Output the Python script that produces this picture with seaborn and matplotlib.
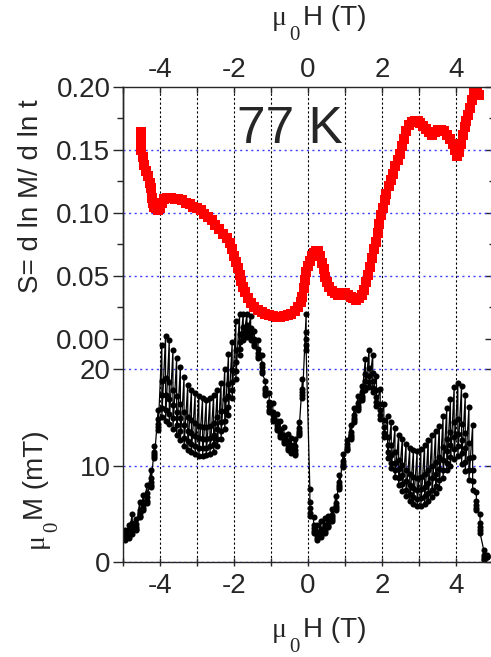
import numpy as np
import matplotlib
matplotlib.use("Agg")
import matplotlib.pyplot as plt
import seaborn as sns
from matplotlib.ticker import MultipleLocator, FixedLocator

# ---------------------------------------------------------------- data
# Relaxation rate S = d ln M / d ln t versus applied field (T)
s_field = [-4.52, -4.52, -4.50, -4.47, -4.43, -4.38, -4.33, -4.28, -4.24, -4.22,
           -4.20, -4.15, -4.10, -4.05, -4.00, -3.95, -3.88, -3.80, -3.70, -3.60,
           -3.50, -3.40, -3.30, -3.20, -3.10, -3.00, -2.90, -2.80, -2.70, -2.60,
           -2.50, -2.40, -2.30, -2.20, -2.12, -2.05, -2.00, -1.95, -1.90, -1.85,
           -1.80, -1.75, -1.70, -1.62, -1.55, -1.45, -1.35, -1.25, -1.15, -1.05,
           -0.95, -0.85, -0.75, -0.65, -0.55, -0.45, -0.35, -0.27, -0.20, -0.15,
           -0.12, -0.09, -0.05, 0.00, 0.05, 0.10, 0.15, 0.22, 0.28, 0.33,
           0.37, 0.42, 0.47, 0.52, 0.58, 0.65, 0.72, 0.80, 0.90, 1.00,
           1.08, 1.15, 1.22, 1.30, 1.38, 1.45, 1.52, 1.58, 1.63, 1.68,
           1.73, 1.78, 1.83, 1.88, 1.93, 1.97, 2.02, 2.07, 2.12, 2.18,
           2.24, 2.30, 2.36, 2.42, 2.48, 2.54, 2.60, 2.66, 2.73, 2.80,
           2.88, 2.96, 3.04, 3.12, 3.20, 3.28, 3.36, 3.44, 3.52, 3.60,
           3.68, 3.76, 3.84, 3.92, 3.98, 4.03, 4.08, 4.13, 4.18, 4.23,
           4.28, 4.33, 4.38, 4.43, 4.48, 4.53, 4.58, 4.62]
s_value = [0.164, 0.158, 0.150, 0.144, 0.138, 0.133, 0.129, 0.124, 0.120, 0.112,
           0.108, 0.105, 0.104, 0.102, 0.104, 0.108, 0.111, 0.112, 0.112, 0.111,
           0.111, 0.110, 0.108, 0.107, 0.105, 0.104, 0.102, 0.099, 0.097, 0.094,
           0.090, 0.087, 0.083, 0.080, 0.076, 0.071, 0.066, 0.061, 0.056, 0.051,
           0.046, 0.041, 0.037, 0.032, 0.028, 0.025, 0.023, 0.021, 0.020, 0.019,
           0.018, 0.0175, 0.0175, 0.018, 0.019, 0.020, 0.022, 0.025, 0.029, 0.033,
           0.040, 0.047, 0.053, 0.058, 0.062, 0.066, 0.068, 0.070, 0.070, 0.066,
           0.060, 0.055, 0.049, 0.045, 0.041, 0.038, 0.036, 0.035, 0.036, 0.036,
           0.035, 0.033, 0.032, 0.031, 0.032, 0.035, 0.039, 0.045, 0.051, 0.057,
           0.064, 0.071, 0.077, 0.084, 0.091, 0.098, 0.104, 0.110, 0.115, 0.121,
           0.126, 0.131, 0.137, 0.142, 0.147, 0.153, 0.159, 0.165, 0.170, 0.172,
           0.173, 0.173, 0.171, 0.169, 0.167, 0.164, 0.162, 0.164, 0.166, 0.166,
           0.165, 0.162, 0.159, 0.155, 0.150, 0.145, 0.148, 0.155, 0.162, 0.168,
           0.173, 0.178, 0.183, 0.190, 0.196, 0.199, 0.197, 0.194]

# Magnetisation (mT) recorded at each field step: first reading, then the
# successive readings while it relaxes
field = [-4.95, -4.85, -4.75, -4.65, -4.55, -4.45, -4.35, -4.25, -4.15, -4.05,
         -3.95, -3.85, -3.75, -3.65, -3.55, -3.45, -3.35, -3.25, -3.15, -3.05,
         -2.95, -2.85, -2.75, -2.65, -2.55, -2.45, -2.35, -2.25, -2.15, -2.05,
         -1.95, -1.85, -1.75, -1.65, -1.55, -1.45, -1.35, -1.25, -1.15, -1.05,
         -0.95, -0.85, -0.75, -0.65, -0.55, -0.45, -0.35, -0.25, -0.15, -0.05,
         0.05, 0.15, 0.25, 0.35, 0.45, 0.55, 0.65, 0.75, 0.85, 0.95,
         1.05, 1.15, 1.25, 1.35, 1.45, 1.55, 1.65, 1.75, 1.85, 1.95,
         2.05, 2.15, 2.25, 2.35, 2.45, 2.55, 2.65, 2.75, 2.85, 2.95,
         3.05, 3.15, 3.25, 3.35, 3.45, 3.55, 3.65, 3.75, 3.85, 3.95,
         4.05, 4.15, 4.25, 4.35, 4.45, 4.55, 4.65, 4.75, 4.85]
m_first = [3.3, 3.8, 5.0, 4.4, 6.2, 6.9, 8.0, 9.5, 12.0, 15.8,
           22.5, 23.5, 23.0, 22.0, 21.2, 20.2, 19.2, 18.4, 17.9, 17.5,
           17.2, 17.0, 16.8, 17.0, 17.3, 17.9, 18.6, 20.0, 21.6, 22.8,
           25.0, 25.8, 25.8, 25.8, 25.5, 24.0, 23.0, 21.5, 18.8, 17.5,
           16.5, 15.4, 14.6, 14.0, 13.3, 12.9, 12.8, 14.5, 19.0, 25.8,
           7.6, 4.6, 3.8, 4.2, 4.5, 4.7, 5.5, 6.8, 9.0, 11.2,
           12.7, 14.2, 16.0, 17.2, 18.3, 21.1, 22.0, 21.5, 19.3, 18.0,
           16.4, 15.1, 14.5, 13.9, 13.2, 12.8, 12.2, 11.8, 11.6, 11.5,
           11.7, 12.1, 12.6, 13.2, 13.6, 14.1, 15.1, 16.0, 16.9, 18.2,
           18.6, 18.3, 17.3, 16.1, 14.2, 7.2, 5.0, 1.2, 0.7]
m_second = [2.8, 3.2, 4.0, 3.9, 5.4, 6.2, 7.1, 8.7, 11.4, 14.8,
            18.8, 19.1, 18.7, 17.9, 17.2, 16.4, 15.6, 15.0, 14.7, 14.4,
            14.1, 14.0, 14.0, 14.1, 14.4, 15.0, 15.7, 16.9, 18.5, 19.9,
            22.0, 23.7, 24.4, 24.6, 24.3, 23.2, 22.1, 20.6, 18.1, 16.6,
            15.6, 14.6, 13.8, 13.2, 12.5, 12.1, 12.0, 13.9, 18.0, 23.9,
            6.2, 3.8, 3.1, 3.4, 3.8, 4.2, 4.9, 6.1, 8.3, 10.5,
            12.2, 13.5, 15.3, 16.5, 17.6, 19.5, 20.1, 19.6, 17.8, 16.4,
            14.7, 13.0, 12.1, 11.4, 10.6, 10.1, 9.5, 9.1, 8.8, 8.7,
            8.8, 9.1, 9.5, 10.0, 10.4, 10.9, 11.9, 12.8, 13.5, 14.5,
            14.8, 14.3, 13.4, 12.3, 10.9, 6.3, 4.0, 0.7, 0.6]
m_third = [2.6, 2.9, 3.5, 3.6, 5.1, 5.9, 6.7, 8.3, 11.2, 14.3,
           17.3, 17.3, 16.9, 16.3, 15.6, 14.9, 14.2, 13.6, 13.4, 13.1,
           12.9, 12.8, 12.8, 12.9, 13.2, 13.8, 14.5, 15.7, 17.2, 18.7,
           20.8, 22.8, 23.8, 24.1, 23.8, 22.9, 21.7, 20.2, 17.8, 16.2,
           15.2, 14.2, 13.5, 12.8, 12.1, 11.8, 11.6, 13.6, 17.6, 23.1,
           5.6, 3.5, 2.8, 3.1, 3.5, 3.9, 4.6, 5.8, 8.0, 10.2,
           11.9, 13.2, 14.9, 16.2, 17.2, 18.8, 19.3, 18.8, 17.1, 15.8,
           14.0, 12.1, 11.1, 10.3, 9.6, 9.0, 8.4, 8.0, 7.7, 7.5,
           7.6, 7.8, 8.2, 8.7, 9.1, 9.6, 10.6, 11.5, 12.1, 13.0,
           13.3, 12.6, 11.8, 10.8, 9.5, 5.9, 3.6, 0.5, 0.6]
m_fourth = [2.4, 2.7, 3.2, 3.4, 4.8, 5.6, 6.3, 8.0, 11.0, 14.0,
            16.0, 15.8, 15.4, 14.9, 14.2, 13.6, 12.9, 12.5, 12.2, 12.0,
            11.8, 11.8, 11.8, 12.0, 12.2, 12.8, 13.6, 14.6, 16.1, 17.8,
            19.8, 22.1, 23.4, 23.7, 23.3, 22.6, 21.4, 19.8, 17.5, 15.8,
            14.8, 13.9, 13.2, 12.5, 11.8, 11.5, 11.3, 13.4, 17.3, 22.5,
            5.1, 3.2, 2.5, 2.8, 3.2, 3.7, 4.4, 5.6, 7.8, 10.0,
            11.7, 13.0, 14.7, 16.0, 17.0, 18.2, 18.7, 18.1, 16.6, 15.2,
            13.4, 11.4, 10.3, 9.5, 8.7, 8.1, 7.5, 7.0, 6.7, 6.5,
            6.6, 6.8, 7.1, 7.5, 7.9, 8.5, 9.5, 10.3, 10.9, 11.7,
            12.0, 11.3, 10.4, 9.5, 8.4, 5.6, 3.3, 0.3, 0.5]
m_last = [2.3, 2.5, 2.9, 3.3, 4.6, 5.4, 6.1, 7.8, 10.8, 13.7,
          15.0, 14.6, 14.3, 13.8, 13.2, 12.6, 12.0, 11.6, 11.4, 11.2,
          11.0, 11.0, 11.1, 11.2, 11.4, 12.0, 12.8, 13.8, 15.3, 17.0,
          19.0, 21.5, 23.0, 23.4, 23.0, 22.4, 21.2, 19.6, 17.3, 15.6,
          14.6, 13.7, 13.0, 12.3, 11.6, 11.3, 11.1, 13.2, 17.0, 22.0,
          4.7, 3.0, 2.3, 2.6, 3.0, 3.6, 4.2, 5.4, 7.6, 9.8,
          11.6, 12.8, 14.5, 15.8, 16.8, 17.8, 18.2, 17.6, 16.2, 14.8,
          13.0, 10.8, 9.7, 8.8, 8.0, 7.4, 6.8, 6.3, 6.0, 5.8,
          5.8, 6.0, 6.3, 6.7, 7.1, 7.7, 8.7, 9.5, 10.0, 10.7,
          11.0, 10.2, 9.4, 8.5, 7.5, 5.4, 3.0, 0.2, 0.5]

x_ticks = [-4, -2, 0, 2, 4]
s_ticks = [0.00, 0.05, 0.10, 0.15, 0.20]
m_ticks = [0, 10, 20]

# ---------------------------------------------------------------- style
sns.set_style("ticks")
plt.rcParams["font.family"] = ["Liberation Sans", "DejaVu Sans"]
plt.rcParams["axes.linewidth"] = 1.0

FS = 20
GRID_BLUE = "#3f3fff"
W, H = 491, 657
fig = plt.figure(figsize=(W / 100, H / 100), dpi=100)


def rect(left, top, right, bottom):
    return [left / W, 1 - bottom / H, (right - left) / W, (bottom - top) / H]


def px(x, y):
    """Pixel position (origin top-left) -> figure fraction."""
    return x / W, 1 - y / H


ax_m = fig.add_axes(rect(123, 87, 493, 561.7))
ax_s = fig.add_axes(rect(123, 87, 493, 338.7))
ax_s.patch.set_visible(False)

# ---------------------------------------------------------------- magnetisation
h_seq = np.repeat(field, 5)
m_seq = np.column_stack([m_first, m_second, m_third, m_fourth, m_last]).ravel()
sns.lineplot(x=h_seq, y=m_seq, sort=False, estimator=None, ax=ax_m,
             color="black", linewidth=0.9, marker="o", markersize=4.4,
             markeredgewidth=0, legend=False)

ax_m.set_xlim(-5, 5)
ax_m.set_ylim(0, 474.7 / 9.62)
ax_m.spines["top"].set_visible(False)
ax_m.xaxis.set_major_locator(FixedLocator(x_ticks))
ax_m.xaxis.set_minor_locator(MultipleLocator(1))
ax_m.yaxis.set_major_locator(FixedLocator(m_ticks))
ax_m.set_xticklabels([str(t) for t in x_ticks])
ax_m.set_yticklabels([str(t) for t in m_ticks])
ax_m.tick_params(axis="x", which="both", direction="inout", length=6,
                 width=1, labelsize=FS, pad=5, top=False)
ax_m.tick_params(axis="y", which="both", direction="out", length=7,
                 width=1, labelsize=FS, pad=2, right=False)
ax_m.grid(axis="x", which="both", color="black", linestyle=(0, (2, 2)),
          linewidth=0.8)
ax_m.grid(axis="y", which="major", color=GRID_BLUE, linestyle=(0, (1.5, 2.5)),
          linewidth=1.0)
ax_m.set_xlabel("")
ax_m.set_ylabel("")

sec_m = ax_m.secondary_yaxis("right")
sec_m.yaxis.set_major_locator(FixedLocator(m_ticks))
sec_m.tick_params(axis="y", direction="in", length=6, width=1, labelright=False)

# ---------------------------------------------------------------- relaxation rate
sns.lineplot(x=s_field, y=s_value, sort=False, estimator=None, ax=ax_s,
             color="#ff0000", linewidth=1.0, marker="s", markersize=7.4,
             markeredgewidth=0, legend=False)

ax_s.set_xlim(-5, 5)
ax_s.set_ylim(0, 0.20)
ax_s.spines["bottom"].set_visible(False)
ax_s.xaxis.tick_top()
ax_s.xaxis.set_major_locator(FixedLocator(x_ticks))
ax_s.xaxis.set_minor_locator(MultipleLocator(1))
ax_s.set_xticklabels([str(t) for t in x_ticks])
ax_s.yaxis.set_major_locator(FixedLocator(s_ticks))
ax_s.yaxis.set_minor_locator(MultipleLocator(0.025))
ax_s.set_yticklabels([f"{t:.2f}" for t in s_ticks])
ax_s.tick_params(axis="x", which="both", direction="in", length=4, width=1,
                 labelsize=FS, pad=3, bottom=False, labelbottom=False)
ax_s.tick_params(axis="y", which="major", direction="out", length=7, width=1,
                 labelsize=FS, pad=2, right=False)
ax_s.tick_params(axis="y", which="minor", direction="out", length=4, width=1,
                 right=False)
for level in s_ticks[1:-1]:
    ax_s.axhline(level, color=GRID_BLUE, linestyle=(0, (1.5, 2.5)),
                 linewidth=1.0, zorder=0.5)
ax_s.set_xlabel("")
ax_s.set_ylabel("")

sec_s = ax_s.secondary_yaxis("right")
sec_s.yaxis.set_major_locator(FixedLocator(s_ticks))
sec_s.yaxis.set_minor_locator(MultipleLocator(0.025))
sec_s.tick_params(axis="y", which="major", direction="in", length=6, width=1,
                  labelright=False)
sec_s.tick_params(axis="y", which="minor", direction="in", length=3, width=1)

# ---------------------------------------------------------------- labels
SERIF = "Liberation Serif"


def field_label(x0, base):
    """mu_0 H (T) written left to right with the baseline at pixel row base."""
    fig.text(*px(x0, base), "\u03bc", family=SERIF, fontsize=FS,
             ha="left", va="baseline")
    fig.text(*px(x0 + 17, base + 15), "0", family=SERIF, fontsize=FS - 5,
             ha="left", va="baseline")
    fig.text(*px(x0 + 31, base), "H (T)", fontsize=FS, ha="left",
             va="baseline")


field_label(272, 25)
field_label(272, 637)

# rotated axis labels, anchored on their baseline
rot = dict(rotation=90, rotation_mode="anchor", ha="left", va="baseline")
fig.text(*px(38, 293), "S= d ln M/ d ln t", fontsize=FS, **rot)
fig.text(*px(43, 548), "\u03bc", family=SERIF, fontsize=FS, **rot)
fig.text(*px(57, 532), "0", family=SERIF, fontsize=FS - 5, **rot)
fig.text(*px(43, 520), "M (mT)", fontsize=FS, **rot)

fig.text(*px(237, 143), "77 K", fontsize=37, ha="left", va="baseline")

fig.savefig("out.png", dpi=100)
